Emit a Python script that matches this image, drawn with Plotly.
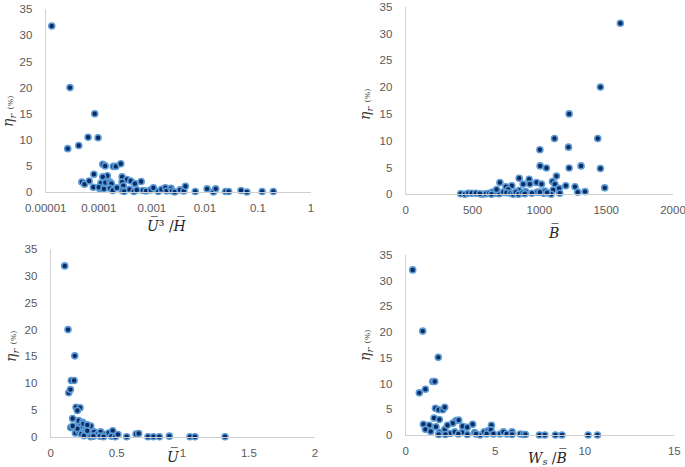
import plotly.graph_objects as go

# ---- Panel 1: eta_r vs U^3/H (log x) ----
p1_x = [1.3e-5, 2.87e-5, 8.4e-5, 6.3e-5, 9.7e-5, 2.6e-5, 4.2e-5, 1.19e-4, 1.32e-4, 1.88e-4,
        2.1e-4, 2.6e-4, 8.1e-5, 1.45e-4, 1.19e-4, 2.75e-4, 3.4e-4, 4.0e-4, 6.3e-4, 4.8e-4,
        4.8e-5, 5.4e-5, 6.6e-5, 7.9e-5, 1.05e-4, 1.1e-4, 1.33e-4, 1.63e-4, 1.73e-4, 1.63e-4,
        1.83e-4, 2.75e-4, 2.9e-4, 2.75e-4, 3.0e-4, 3.8e-4, 4.6e-4, 5.2e-4, 6.8e-4, 7.8e-4,
        9.6e-4, 1.07e-3, 1.32e-3, 1.52e-3, 1.8e-3, 1.9e-3, 2.3e-3, 2.4e-3, 2.7e-3, 3.4e-3,
        4.0e-3, 4.3e-3, 6.6e-3, 0.011, 0.0145, 0.016, 0.0245, 0.028, 0.048, 0.062,
        0.12, 0.195, 1.0e-4, 1.25e-4, 2.2e-4]
p1_y = [31.8, 20.0, 15.0, 10.5, 10.4, 8.3, 8.9, 5.3, 5.0, 4.9,
        4.9, 5.4, 3.4, 3.1, 2.9, 2.9, 2.4, 2.1, 2.0, 1.6,
        1.9, 1.5, 2.1, 0.9, 0.6, 1.7, 1.8, 1.9, 1.6, 0.7,
        0.3, 1.9, 1.2, 0.3, 0.1, 0.5, 0.1, 0.4, 0.3, 0.2,
        0.4, 0.8, 0.1, 0.5, 0.8, 0.2, 0.7, 0.2, 0.0, 0.4,
        0.2, 1.1, 0.1, 0.6, 0.0, 0.6, 0.1, 0.1, 0.3, 0.0,
        0.1, 0.1, 0.9, 0.6, 0.8]

# ---- Panel 2: eta_r vs B ----
p2_x = [1606, 1457, 1223, 1113, 1437, 1218, 1004, 1006, 1053, 1223,
        1312, 1457, 1128, 849, 924, 705, 979, 1016, 879, 929,
        1098, 1116, 1198, 1267, 1489, 1148, 1103, 750, 794, 767,
        849, 898, 984, 1033, 1041, 1088, 1287, 1342, 411, 443,
        468, 493, 525, 575, 600, 625, 650, 675, 700, 730,
        754, 784, 804, 824, 844, 874, 891, 944, 1004, 1058,
        1153, 642, 555, 680]
p2_y = [31.9, 20.0, 15.0, 10.4, 10.4, 8.8, 8.3, 5.3, 4.9, 4.9,
        5.3, 4.8, 3.4, 3.0, 2.8, 2.2, 2.2, 1.9, 1.9, 1.9,
        2.4, 1.9, 1.6, 1.4, 1.2, 1.1, 0.8, 1.4, 1.6, 0.9,
        0.7, 0.5, 0.4, 0.2, 0.6, 0.0, 0.4, 0.5, 0.1, 0.0,
        0.2, 0.2, 0.2, 0.0, 0.1, 0.2, 0.4, 0.2, 0.1, 0.4,
        0.3, 0.2, 0.0, 0.4, 0.0, 0.3, 0.1, 0.2, 0.4, 0.3,
        0.2, 0.0, 0.1, 0.9]

# ---- Panel 3: eta_r vs U ----
p3_x = [0.106, 0.131, 0.182, 0.156, 0.177, 0.136, 0.149, 0.192, 0.222, 0.202,
        0.166, 0.212, 0.242, 0.303, 0.151, 0.184, 0.187, 0.222, 0.247, 0.267,
        0.277, 0.212, 0.232, 0.252, 0.293, 0.303, 0.328, 0.353, 0.378, 0.373,
        0.414, 0.439, 0.469, 0.459, 0.489, 0.509, 0.575, 0.646, 0.666, 0.736,
        0.777, 0.822, 0.898, 1.054, 1.092, 1.319, 0.277, 0.323, 0.400, 0.202,
        0.166]
p3_y = [31.9, 20.0, 15.1, 10.5, 10.5, 8.2, 8.8, 5.5, 5.4, 4.9,
        3.4, 3.0, 2.7, 2.0, 1.7, 1.9, 0.7, 1.9, 2.4, 1.4,
        2.2, 1.0, 0.5, 0.2, 0.5, 0.0, 0.9, 0.4, 0.9, 0.1,
        0.4, 0.7, 1.1, 0.1, 0.0, 0.4, 0.0, 0.5, 0.6, 0.0,
        0.0, 0.0, 0.1, 0.0, 0.0, 0.0, 1.1, 0.1, 0.0, 1.5,
        2.0]

# ---- Panel 4: eta_r vs Ws/B ----
p4_x = [0.39, 0.95, 1.82, 1.51, 1.62, 0.76, 1.10, 1.66, 1.84, 2.07,
        2.18, 1.58, 1.88, 2.81, 2.96, 2.63, 0.99, 1.32, 1.69, 1.10,
        1.40, 1.88, 1.84, 2.18, 2.33, 2.48, 2.22, 3.18, 3.44, 3.74,
        2.74, 3.15, 3.44, 3.85, 4.15, 4.38, 4.60, 4.79, 4.75, 4.90,
        4.52, 5.27, 5.46, 5.64, 5.94, 5.94, 6.39, 6.57, 6.69, 7.47,
        7.77, 8.36, 8.73, 10.19, 10.71, 3.93, 2.94]
p4_y = [32.1, 20.2, 15.1, 10.4, 10.4, 8.2, 8.9, 5.2, 4.9, 4.9,
        5.4, 3.3, 3.0, 2.8, 2.9, 2.3, 2.1, 1.9, 1.6, 1.1,
        0.7, 0.5, 0.1, 1.1, 1.9, 0.3, 0.1, 1.7, 1.5, 2.1,
        0.6, 0.5, 0.1, 0.5, 0.0, 0.6, 0.8, 1.9, 1.0, 0.2,
        0.2, 0.2, 0.6, 0.2, 0.6, 0.1, 0.2, 0.1, 0.1, 0.0,
        0.0, 0.0, 0.0, 0.0, 0.0, 0.2, 0.2]

y_ticks = [0, 5, 10, 15, 20, 25, 30, 35]
p1_ticks = [1e-5, 1e-4, 1e-3, 1e-2, 1e-1, 1]
p1_ticktext = ["0.00001", "0.0001", "0.001", "0.01", "0.1", "1"]
p2_ticks = [0, 500, 1000, 1500, 2000]
p3_ticks = [0, 0.5, 1, 1.5, 2]
p4_ticks = [0, 5, 10, 15]

W, H = 685, 467
def px(v):
    return v / W
def py(v):
    return 1 - v / H

marker = dict(size=6, color="#0b2a63", line=dict(color="#5b9bd5", width=1.6))
tickfont = dict(family="Liberation Sans, Arial", size=11.5, color="#595959")
axcol = "#d0d0d0"

fig = go.Figure()
panels = [
    (p1_x, p1_y, "x", "y"),
    (p2_x, p2_y, "x2", "y2"),
    (p3_x, p3_y, "x3", "y3"),
    (p4_x, p4_y, "x4", "y4"),
]
for xs, ys, xa, ya in panels:
    fig.add_trace(go.Scatter(x=xs, y=ys, mode="markers", marker=marker,
                             xaxis=xa, yaxis=ya, showlegend=False, hoverinfo="x+y",
                             cliponaxis=False))

# domains from pixel positions
doms = {
    1: ([px(45.7), px(311)], [py(192), py(9.3)]),
    2: ([px(405.7), px(673)], [py(194.3), py(6.7)]),
    3: ([px(50.7), px(315)], [py(436.7), py(249.3)]),
    4: ([px(405.7), px(674.3)], [py(435), py(255)]),
}

common_x = dict(showgrid=False, zeroline=False, showline=True, linecolor=axcol, linewidth=1,
                ticks="", tickfont=tickfont, ticklabelstandoff=5, fixedrange=True,
                automargin=False, ticklabeloverflow="allow")
common_y = dict(showgrid=False, zeroline=False, showline=True, linecolor=axcol, linewidth=1,
                ticks="", tickfont=tickfont, ticklabelstandoff=10, range=[0, 35],
                tickvals=y_ticks, fixedrange=True, automargin=False,
                ticklabeloverflow="allow")

layout = dict(
    template="none",
    width=W, height=H, margin=dict(l=0, r=0, t=0, b=0, autoexpand=False),
    paper_bgcolor="white", plot_bgcolor="white",
    xaxis=dict(common_x, domain=doms[1][0], anchor="y", type="log", range=[-5, 0],
               tickvals=p1_ticks, ticktext=p1_ticktext),
    yaxis=dict(common_y, domain=doms[1][1], anchor="x"),
    xaxis2=dict(common_x, domain=doms[2][0], anchor="y2", range=[0, 2000], tickvals=p2_ticks),
    yaxis2=dict(common_y, domain=doms[2][1], anchor="x2"),
    xaxis3=dict(common_x, domain=doms[3][0], anchor="y3", range=[0, 2], tickvals=p3_ticks),
    yaxis3=dict(common_y, domain=doms[3][1], anchor="x3"),
    xaxis4=dict(common_x, domain=doms[4][0], anchor="y4", range=[0, 15], tickvals=p4_ticks),
    yaxis4=dict(common_y, domain=doms[4][1], anchor="x4"),
)
fig.update_layout(**layout)

label_font = dict(family="DejaVu Serif", size=14, color="#262626")
ylab = "<i>η<sub>r</sub></i> <span style='font-size:8px'>(%)</span>"
ylabel_pos = [(9, 112), (366, 104), (12, 347), (366, 345)]
for (x, y) in ylabel_pos:
    fig.add_annotation(text=ylab, x=px(x), y=py(y), xref="paper", yref="paper",
                       showarrow=False, textangle=-90, font=dict(label_font, color="#404040"),
                       xanchor="center", yanchor="middle")

xlabels = [
    ("<i>U\u0305</i>\u00b3 /<i>H\u0305</i>", 167, 225),
    ("<i>B\u0305</i>", 553, 232),
    ("<i>U\u0305</i>", 173, 456),
    ("<i>W<sub>s</sub></i> /<i>B\u0305</i>", 547, 457),
]
for text, x, y in xlabels:
    fig.add_annotation(text=text, x=px(x), y=py(y), xref="paper", yref="paper",
                       showarrow=False, font=label_font, xanchor="center", yanchor="middle")

fig.write_html("out.html", config={"displayModeBar": False},
               post_script="document.body.style.margin='0';document.body.style.overflow='hidden';")
